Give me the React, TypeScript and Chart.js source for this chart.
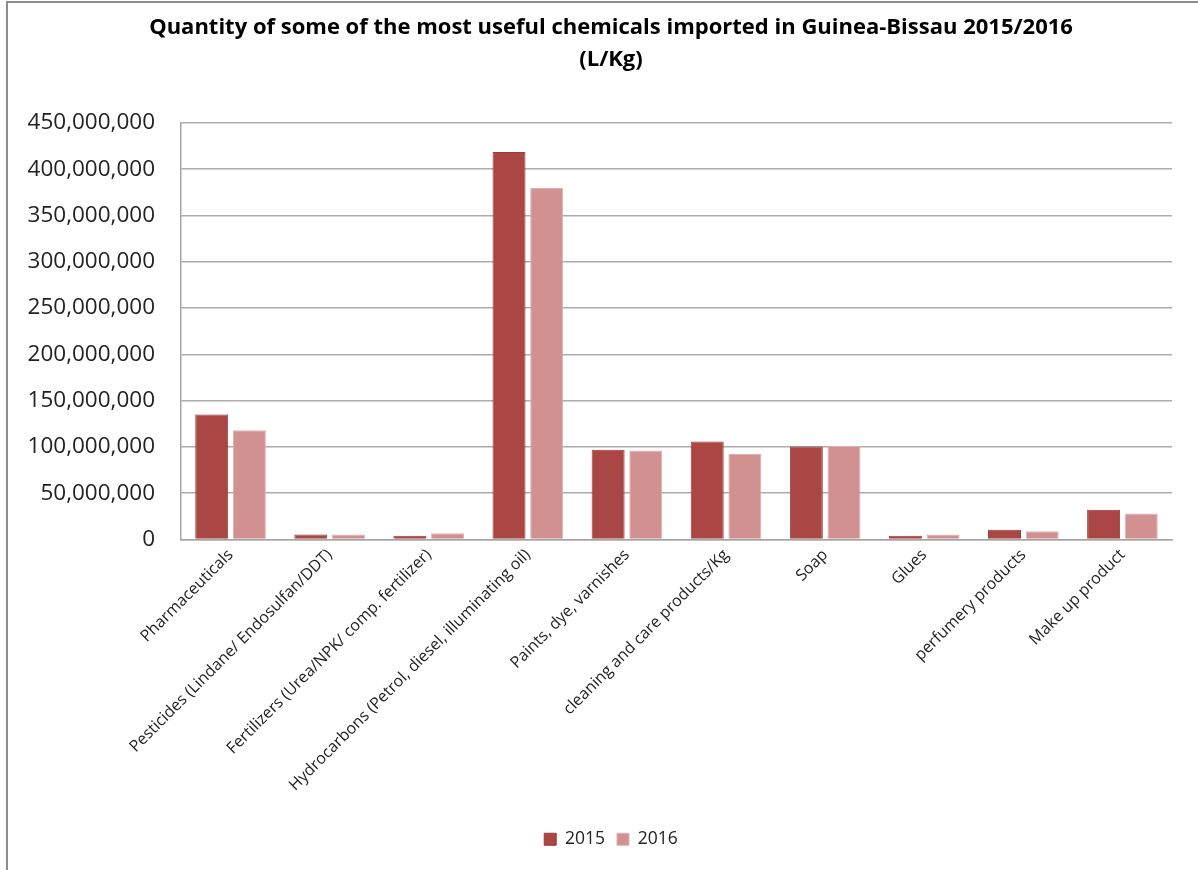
import React, { useEffect, useRef } from "react";
import { Chart, registerables } from "chart.js";

Chart.register(...registerables);

const titleLines = [
  "Quantity of some of the most useful chemicals imported in Guinea-Bissau 2015/2016",
  "(L/Kg)",
];

const categories = [
  "Pharmaceuticals",
  "Pesticides (Lindane/ Endosulfan/DDT)",
  "Fertilizers (Urea/NPK/ comp. fertilizer)",
  "Hydrocarbons (Petrol, diesel, illuminating oil)",
  "Paints, dye, varnishes",
  "cleaning and care products/Kg",
  "Soap",
  "Glues",
  "perfumery products",
  "Make up product",
];

const seriesNames = ["2015", "2016"];

const values2015 = [135000000, 5400000, 4000000, 418500000, 97000000, 105700000, 100300000, 4000000, 10500000, 32000000];
const values2016 = [118000000, 5500000, 6800000, 379700000, 96000000, 92300000, 101000000, 5400000, 9000000, 28000000];

const yTicks = [0, 50000000, 100000000, 150000000, 200000000, 250000000, 300000000, 350000000, 400000000, 450000000];

const colors2015 = "#AA4644";
const colors2016 = "#D29191";

export default function App() {
  const canvasRef = useRef<HTMLCanvasElement | null>(null);

  useEffect(() => {
    document.body.style.margin = "0";
    const canvas = canvasRef.current;
    if (!canvas) return;
    const font = "'Open Sans', 'Noto Sans', sans-serif";
    const chart = new Chart(canvas, {
      type: "bar",
      data: {
        labels: categories,
        datasets: [
          {
            label: seriesNames[0],
            data: values2015,
            backgroundColor: colors2015,
            borderColor: "#9c3b39",
            borderWidth: 1,
            categoryPercentage: 0.76,
            barPercentage: 0.876,
          },
          {
            label: seriesNames[1],
            data: values2016,
            backgroundColor: colors2016,
            borderColor: "#e2b0b0",
            borderWidth: 1,
            categoryPercentage: 0.76,
            barPercentage: 0.876,
          },
        ],
      },
      options: {
        responsive: false,
        animation: false,
        devicePixelRatio: 1,
        layout: { padding: { top: 0, left: 24, right: 0, bottom: 12 } },
        plugins: {
          title: {
            display: true,
            text: titleLines,
            color: "#000",
            font: { family: font, size: 22, weight: "bold", lineHeight: 1.45 },
            padding: { top: 12, bottom: 47 },
          },
          legend: {
            display: true,
            position: "bottom",
            labels: {
              color: "#222",
              font: { family: font, size: 17.5 },
              boxWidth: 12,
              boxHeight: 12,
              padding: 12,
            },
          },
          tooltip: { enabled: false },
        },
        scales: {
          x: {
            grid: { display: false, drawTicks: false },
            border: { display: true, color: "#a6a6a6", width: 1.5 },
            ticks: {
              color: "#222",
              font: { family: font, size: 16 },
              maxRotation: 45,
              minRotation: 45,
              autoSkip: false,
              padding: 6,
            },
            afterFit: (scale: any) => {
              scale.height = 279;
            },
          },
          y: {
            min: 0,
            max: 450000000,
            afterBuildTicks: (scale: any) => {
              scale.ticks = yTicks.map((v) => ({ value: v }));
            },
            grid: { color: "#acacac", lineWidth: 1.5, drawTicks: false },
            border: { display: true, color: "#a6a6a6", width: 1.5 },
            ticks: {
              color: "#222",
              font: { family: font, size: 22.5 },
              padding: 26,
              callback: (v: any) => Number(v).toLocaleString("en-US"),
            },
            afterFit: (scale: any) => {
              scale.width = 157;
            },
          },
          yRight: {
            type: "linear",
            position: "right",
            display: true,
            grid: { display: false, drawTicks: false },
            border: { display: false },
            ticks: { display: false },
            afterFit: (scale: any) => {
              scale.width = 26;
            },
          },
        },
      },
    });
    return () => chart.destroy();
  }, []);

  return (
    <div style={{ position: "absolute", left: 0, top: 0, width: 1198, height: 870, background: "#fff", overflow: "hidden" }}>
      <canvas ref={canvasRef} width={1198} height={870} style={{ position: "absolute", left: 0, top: 0, width: 1198, height: 870 }} />
      <div style={{ position: "absolute", left: 6, top: 1, width: 1300, height: 1000, borderLeft: "2px solid #8c8c8c", borderTop: "2px solid #8c8c8c", pointerEvents: "none" }} />
    </div>
  );
}
